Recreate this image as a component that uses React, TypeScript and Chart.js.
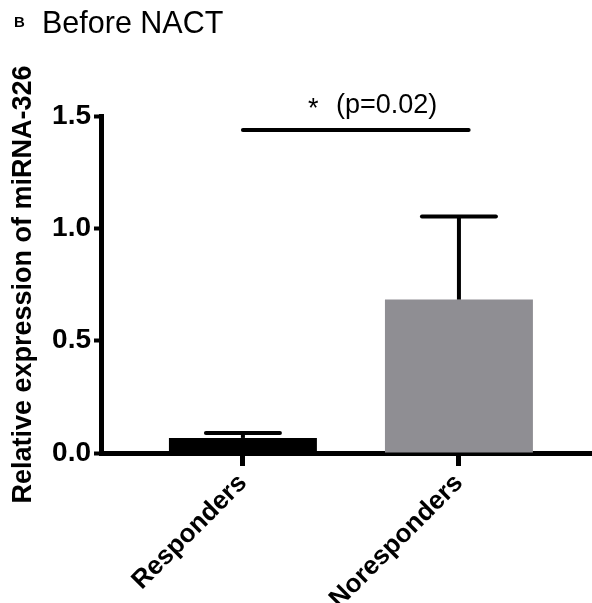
import React, { useEffect, useRef } from "react";
import { Chart, registerables } from "chart.js";

Chart.register(...registerables);

const categories = ["Responders", "Noresponders"];
const means = [0.067, 0.683];
const errors = [0.022, 0.37];
const barColors = ["#000000", "#8f8e93"];
const yTicks = [0, 0.5, 1.0, 1.5];
const sigLabelStar = "*";
const sigLabelP = "(p=0.02)";
const sigLevel = 1.438;
const sigFrom = 0;
const sigTo = 1.045;
const panelLetter = "B";
const panelTitle = "Before NACT";
const yTitle = "Relative expression of miRNA-326";

const FONT = "'Liberation Sans', Arial, Helvetica, sans-serif";

export default function App() {
  const ref = useRef<HTMLCanvasElement | null>(null);

  useEffect(() => {
    if (!ref.current) return;

    const errorBars = {
      id: "errorBars",
      afterDatasetsDraw(chart: any) {
        const { ctx } = chart;
        const xs = chart.scales.x;
        const ys = chart.scales.y;
        const meta = chart.getDatasetMeta(0);
        ctx.save();
        ctx.strokeStyle = "#000";
        ctx.lineWidth = 4;
        means.forEach((m, i) => {
          const x = xs.getPixelForValue(i);
          const y0 = ys.getPixelForValue(m);
          const y1 = ys.getPixelForValue(m + errors[i]);
          const half = (meta.data[i].width * 0.5) / 2;
          ctx.beginPath();
          ctx.lineCap = "butt";
          ctx.moveTo(x, y0);
          ctx.lineTo(x, y1);
          ctx.stroke();
          ctx.beginPath();
          ctx.lineCap = "round";
          ctx.moveTo(x - half, y1);
          ctx.lineTo(x + half, y1);
          ctx.stroke();
        });
        // significance bar
        const sy = ys.getPixelForValue(sigLevel);
        const sx0 = xs.getPixelForValue(sigFrom);
        const sx1 = xs.getPixelForValue(sigTo);
        ctx.beginPath();
        ctx.lineCap = "round";
        ctx.moveTo(sx0, sy);
        ctx.lineTo(sx1, sy);
        ctx.stroke();
        ctx.fillStyle = "#000";
        ctx.textBaseline = "alphabetic";
        ctx.textAlign = "left";
        ctx.font = `27px ${FONT}`;
        ctx.fillText(sigLabelStar, 308, 117);
        ctx.fillText(sigLabelP, 336, 113);
        ctx.restore();
      },
      afterDraw(chart: any) {
        const { ctx } = chart;
        ctx.save();
        ctx.fillStyle = "#000";
        ctx.textBaseline = "alphabetic";
        ctx.textAlign = "left";
        ctx.font = `bold 15px ${FONT}`;
        ctx.fillText(panelLetter, 14, 27);
        ctx.font = `30.5px ${FONT}`;
        ctx.fillText(panelTitle, 42, 33);
        ctx.restore();
      },
    };

    const chart = new Chart(ref.current, {
      type: "bar",
      data: {
        datasets: [
          {
            data: means.map((v, i) => ({ x: i, y: v })),
            backgroundColor: barColors,
            borderWidth: 0,
            barPercentage: 0.685,
            categoryPercentage: 1,
          },
        ],
      },
      options: {
        animation: false,
        responsive: true,
        maintainAspectRatio: false,
        devicePixelRatio: 1,
        layout: { padding: { top: 116, left: 0, right: 0, bottom: 0 } },
        plugins: {
          legend: { display: false },
          tooltip: { enabled: false },
          title: { display: false },
        },
        scales: {
          x: {
            type: "linear",
            offset: false,
            min: -0.657,
            max: 1.616,
            afterBuildTicks(scale: any) {
              scale.ticks = categories.map((_, i) => ({ value: i }));
            },
            afterFit(scale: any) {
              scale.height = 150;
            },
            grid: {
              display: true,
              offset: false,
              drawOnChartArea: false,
              drawTicks: true,
              tickLength: 13,
              tickWidth: 5,
              tickColor: "#000",
            },
            border: { display: true, color: "#000", width: 5 },
            ticks: {
              autoSkip: false,
              minRotation: 45,
              maxRotation: 45,
              padding: 2,
              color: "#000",
              font: { family: FONT, size: 26, weight: "bold" },
              callback: (value: any) => categories[Math.round(Number(value))] ?? "",
            },
          },
          y: {
            type: "linear",
            min: 0,
            max: 1.5,
            afterBuildTicks(scale: any) {
              scale.ticks = yTicks.map((v) => ({ value: v }));
            },
            afterFit(scale: any) {
              scale.width = 101;
            },
            grid: {
              display: true,
              drawOnChartArea: false,
              drawTicks: true,
              tickLength: 7,
              tickWidth: 4,
              tickColor: "#000",
            },
            border: { display: true, color: "#000", width: 5 },
            ticks: {
              padding: 3,
              color: "#000",
              font: { family: FONT, size: 28, weight: "bold" },
              callback: (value: any) => Number(value).toFixed(1),
            },
            title: {
              display: true,
              text: yTitle,
              color: "#000",
              font: { family: FONT, size: 27, weight: "bold" },
              padding: { top: 7, bottom: 0 },
            },
          },
        },
      },
      plugins: [errorBars],
    });

    return () => chart.destroy();
  }, []);

  return (
    <div style={{ position: "absolute", left: 0, top: 0, width: 592, height: 603, background: "#fff" }}>
      <canvas ref={ref} />
    </div>
  );
}
